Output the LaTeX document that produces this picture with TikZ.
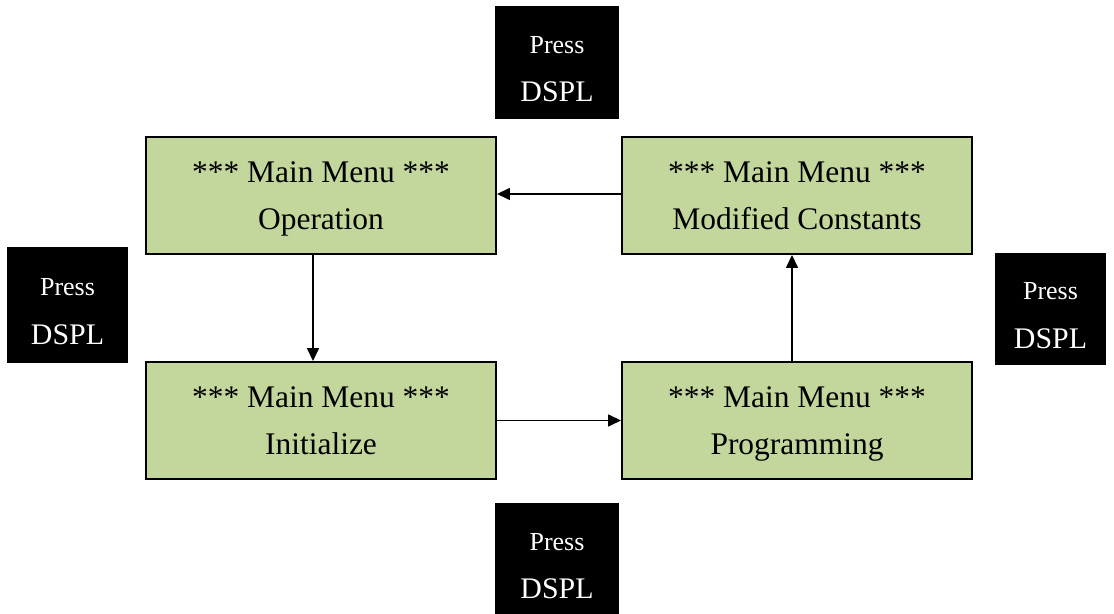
\documentclass[tikz,border=0pt]{standalone}
\usepackage{fontspec}
\setmainfont{Liberation Serif}
\usetikzlibrary{arrows.meta}
\definecolor{menugreen}{HTML}{C3D69B}
\newcommand{\presskey}{{\fontsize{14.8}{27.8}\selectfont\rule{0pt}{17pt}Press}\\DSPL}
\begin{document}
\begin{tikzpicture}[
  menu/.style={draw=black,line width=1.1pt,fill=menugreen,minimum width=7cm,minimum height=2.34cm,
    inner sep=0pt,align=center,text depth=0pt,font=\fontsize{17.9}{26.6}\selectfont},
  press/.style={fill=black,text=white,inner sep=0pt,align=center,text depth=0pt,font=\fontsize{17}{27.8}\selectfont},
  flow/.style={line width=0.85pt,-{Triangle[length=0.26cm,width=0.24cm]}}]
\useasboundingbox (0,0) rectangle (22.28,-12.28);
% menu screens
\node[menu] (oper) at (6.42,-3.91) {*** Main Menu ***\\Operation};
\node[menu] (modc) at (15.94,-3.91) {*** Main Menu ***\\Modified Constants};
\node[menu] (init) at (6.42,-8.41) {*** Main Menu ***\\Initialize};
\node[menu] (prog) at (15.94,-8.41) {*** Main Menu ***\\Programming};
% key presses
\node[press,minimum width=2.48cm,minimum height=2.26cm] (ptop) at (11.14,-1.25) {\presskey};
\node[press,minimum width=2.42cm,minimum height=2.32cm] (pleft) at (1.35,-6.1) {\presskey};
\node[press,minimum width=2.22cm,minimum height=2.24cm] (pright) at (21.01,-6.18) {\presskey};
\node[press,minimum width=2.48cm,minimum height=2.26cm] (pbot) at (11.14,-11.19) {\presskey};
% transitions
\draw[flow] ([xshift=-0.16cm]oper.south) -- ([xshift=-0.16cm]init.north);
\draw[flow] (init.east) -- (prog.west);
\draw[flow] ([xshift=-0.1cm]prog.north) -- ([xshift=-0.1cm]modc.south);
\draw[flow] ([yshift=0.03cm]modc.west) -- ([yshift=0.03cm]oper.east);
\end{tikzpicture}
\end{document}
